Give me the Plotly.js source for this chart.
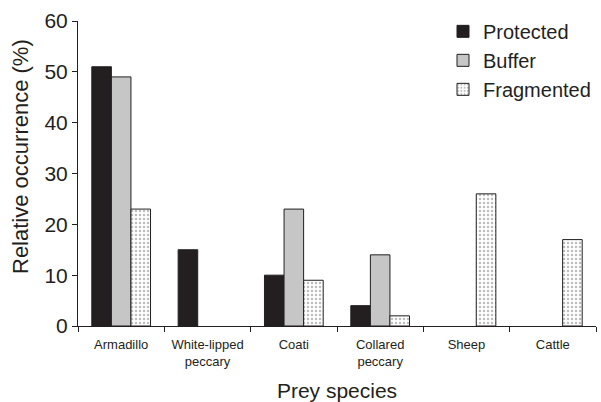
<!DOCTYPE html>
<html><head><meta charset="utf-8">
<script src="https://cdn.plot.ly/plotly-3.0.1.min.js"></script>
<style>html,body{margin:0;padding:0;background:#fff}</style>
</head><body>
<div id="chart" style="width:601px;height:402px"></div>
<script>
const categories = ["Armadillo", "White-lipped<br>peccary", "Coati", "Collared<br>peccary", "Sheep", "Cattle"];
const protectedVals = [51, 15, 10, 4, 0, 0];
const bufferVals = [49, 0, 23, 14, 0, 0];
const fragmentedVals = [23, 0, 9, 2, 26, 17];
const seriesNames = ["Protected", "Buffer", "Fragmented"];
const yTicks = [0, 10, 20, 30, 40, 50, 60];

const dark = "#231f20";
const lw = vals => vals.map(v => v === 0 ? 0 : 1);
const traces = [
  {type: "bar", name: seriesNames[0], x: categories, y: protectedVals,
   marker: {color: dark, line: {color: dark, width: lw(protectedVals)}}},
  {type: "bar", name: seriesNames[1], x: categories, y: bufferVals,
   marker: {color: "#c6c6c6", line: {color: dark, width: lw(bufferVals)}}},
  {type: "bar", name: seriesNames[2], x: categories, y: fragmentedVals,
   marker: {color: "#ffffff", line: {color: dark, width: lw(fragmentedVals)},
            pattern: {shape: ".", fgcolor: "#bdbdbd", bgcolor: "#ffffff", size: 4, solidity: 0.3}}}
];

const layout = {
  width: 601, height: 402,
  margin: {l: 78, r: 5, t: 21, b: 76},
  paper_bgcolor: "#fff", plot_bgcolor: "#fff",
  font: {family: "Liberation Sans, Arial, sans-serif", color: dark},
  barmode: "group", bargap: 0.32, bargroupgap: 0,
  showlegend: true,
  legend: {x: 1.0, xanchor: "right", y: 1.03, yanchor: "top", font: {size: 20, color: dark},
           bgcolor: "rgba(0,0,0,0)", itemwidth: 30, tracegroupgap: 0},
  xaxis: {
    showline: true, linecolor: dark, linewidth: 1,
    ticks: "outside", tickson: "boundaries", ticklen: 5, tickcolor: dark,
    ticklabelstandoff: 6,
    tickfont: {size: 13, color: dark},
    title: {text: "Prey species", font: {size: 21, color: dark}, standoff: 15},
    showgrid: false, zeroline: false
  },
  yaxis: {
    range: [0, 60], tickvals: yTicks, ticktext: yTicks.map(String),
    showline: true, linecolor: dark, linewidth: 1,
    ticks: "outside", ticklen: 5, tickcolor: dark,
    tickfont: {size: 21, color: dark},
    showgrid: false, zeroline: false
  },
  annotations: [{
    text: "Relative occurrence (%)", textangle: -90,
    xref: "paper", yref: "paper", x: (20 - 78) / 518, y: (326 - 157) / 305,
    xanchor: "center", yanchor: "middle", showarrow: false,
    font: {size: 22, color: dark}
  }]
};
Plotly.newPlot("chart", traces, layout, {displayModeBar: false, staticPlot: true});
</script>
</body></html>
